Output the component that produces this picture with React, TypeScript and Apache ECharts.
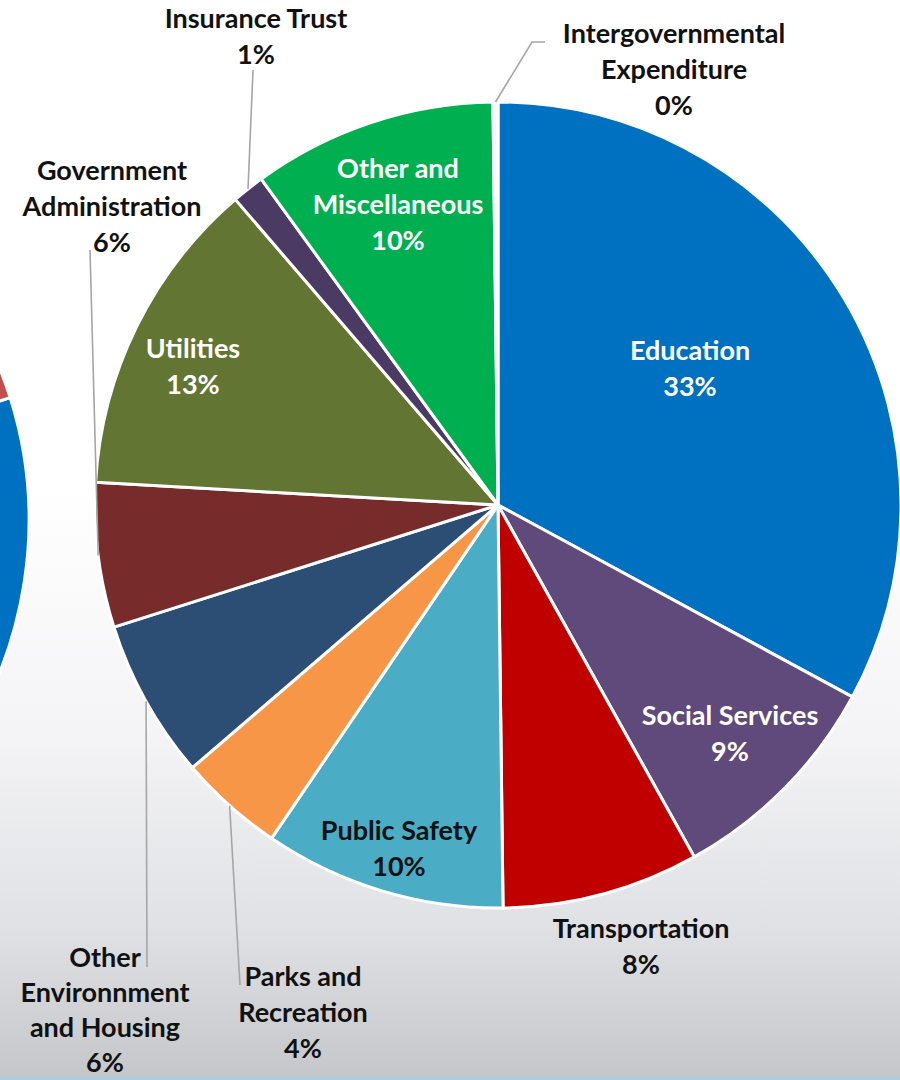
import React, { useEffect, useRef } from "react";
import * as echarts from "echarts";

// ---- data ----
const categories = [
  "Education",
  "Social Services",
  "Transportation",
  "Public Safety",
  "Parks and Recreation",
  "Other Environnment and Housing",
  "Government Administration",
  "Utilities",
  "Insurance Trust",
  "Other and Miscellaneous",
  "Intergovernmental Expenditure",
];
const labelNames = [
  "Education",
  "Social Services",
  "Transportation",
  "Public Safety",
  "Parks and\nRecreation",
  "Other\nEnvironnment\nand Housing",
  "Government\nAdministration",
  "Utilities",
  "Insurance Trust",
  "Other and\nMiscellaneous",
  "Intergovernmental\nExpenditure",
];
const shareValues = [32.9, 9.0, 7.9, 9.7, 4.2, 6.4, 5.8, 12.8, 1.3, 9.8, 0.2];

// neighbouring (cut-off) pie on the left edge
const leftCategories = ["Left share A", "Left share B"];
const leftValues = [62, 38];

// ---- styles / layout ----
const sliceColors = [
  "#0070C0", "#604A7B", "#C00000", "#4BACC6", "#F79646", "#2D4E74",
  "#772B2A", "#627532", "#4B3A63", "#00B050", "#F4F4F4",
];
const leftColors = ["#0070C0", "#C0504D"];
const labelColors = [
  "#FFFFFF", "#FFFFFF", "#111111", "#111111", "#111111", "#111111",
  "#111111", "#FFFFFF", "#111111", "#FFFFFF", "#111111",
];
const CX = 498;
const CY = 505;
const R = 403;
// centre of each label block
const labelAnchors: number[][] = [
  [690, 367], [730, 732], [641, 945], [399, 847], [303, 1011], [105, 1009],
  [112, 205], [193, 365], [256, 35], [398, 203], [674, 68],
];
const labelLineHeights = [36, 36, 36, 36, 36, 35, 36, 36, 36, 36, 36];
// leader line end points (after the point on the slice edge)
const leaderEnds: Record<number, number[][]> = {
  4: [[240, 985]],
  5: [[147, 967]],
  6: [[90, 250]],
  8: [[253, 70]],
  10: [[532, 42], [545, 42]],
};

export default function App() {
  const ref = useRef<HTMLDivElement>(null);
  useEffect(() => {
    if (!ref.current) return;
    const chart = echarts.init(ref.current, undefined, { renderer: "svg" });
    const total = shareValues.reduce((a, b) => a + b, 0);
    let acc = 0;
    const mids = shareValues.map((v) => {
      const m = acc + v / 2;
      acc += v;
      return (m / total) * 360;
    });
    const edge = (i: number) => {
      const a = (mids[i] * Math.PI) / 180;
      return [CX + R * Math.sin(a), CY - R * Math.cos(a)];
    };
    const leaders = Object.keys(leaderEnds).map((k) => {
      const i = Number(k);
      return {
        type: "polyline",
        silent: true,
        z: 10,
        shape: { points: [edge(i), ...leaderEnds[i]] },
        style: { stroke: "#A6A6A6", lineWidth: 1.6, fill: null },
      };
    });

    chart.setOption({
      animation: false,
      backgroundColor: "transparent",
      graphic: leaders,
      series: [
        {
          type: "pie",
          silent: true,
          center: [-378, 520],
          radius: 407,
          startAngle: 17.5,
          clockwise: true,
          label: { show: false },
          labelLine: { show: false },
          itemStyle: { borderColor: "#FFFFFF", borderWidth: 3 },
          data: leftValues.map((v, i) => ({
            name: leftCategories[i],
            value: v,
            itemStyle: { color: leftColors[i] },
          })),
        },
        {
          type: "pie",
          center: [CX, CY],
          radius: R,
          startAngle: 90,
          clockwise: true,
          avoidLabelOverlap: false,
          itemStyle: { borderColor: "#FFFFFF", borderWidth: 3 },
          label: {
            show: true,
            position: "inside",
            fontFamily: "Lato",
            fontWeight: "bold",
            fontSize: 27,
            lineHeight: 36,
            formatter: (p: any) =>
              labelNames[p.dataIndex] + "\n" + Math.round(p.percent) + "%",
          },
          labelLine: { show: false },
          labelLayout: (params: any) => {
            const a = labelAnchors[params.dataIndex];
            return { x: a[0], y: a[1], align: "center", verticalAlign: "middle" };
          },
          data: shareValues.map((v, i) => ({
            name: categories[i],
            value: v,
            itemStyle: { color: sliceColors[i] },
            label: { color: labelColors[i], lineHeight: labelLineHeights[i] },
          })),
        },
      ],
    });
    return () => chart.dispose();
  }, []);

  return (
    <div
      style={{
        position: "absolute",
        left: 0,
        top: 0,
        width: 900,
        height: 1080,
        overflow: "hidden",
        background:
          "linear-gradient(180deg, #FFFFFF 0%, #FFFFFF 45%, #F4F4F6 68%, #E0E1E4 86%, #C4C6C9 100%)",
      }}
    >
      <div ref={ref} style={{ position: "absolute", left: 0, top: 0, width: 900, height: 1080 }} />
      <div
        style={{
          position: "absolute",
          left: 0,
          bottom: 0,
          width: 900,
          height: 3,
          background: "#A9CFDE",
        }}
      />
    </div>
  );
}
